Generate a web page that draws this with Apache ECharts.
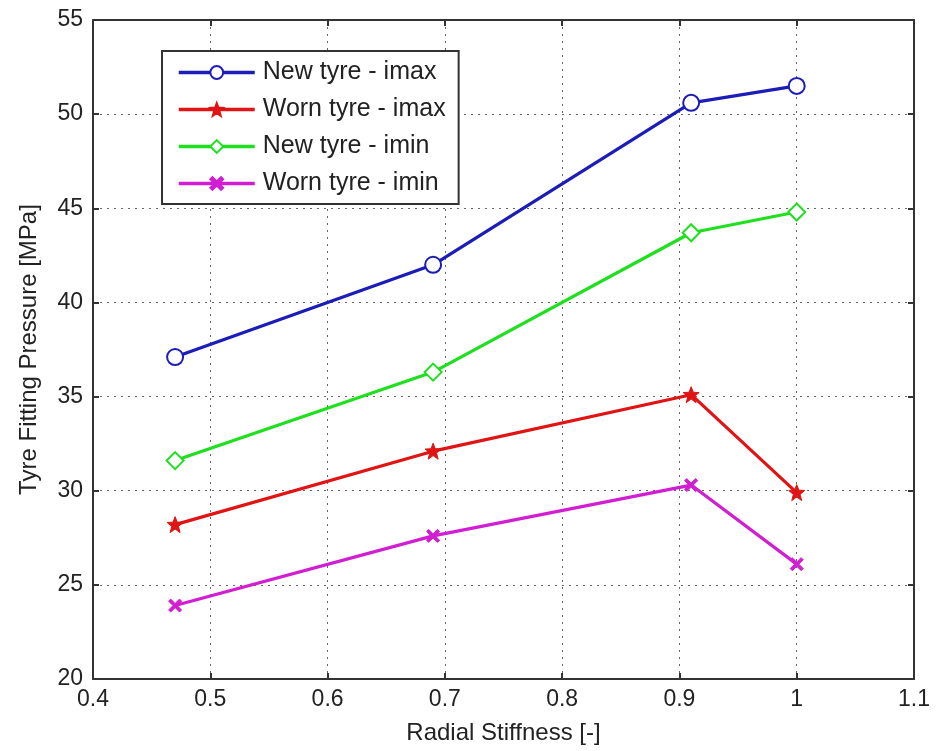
<!DOCTYPE html>
<html>
<head>
<meta charset="utf-8">
<script src="https://cdn.jsdelivr.net/npm/echarts@6/dist/echarts.min.js"></script>
<style>
html,body{margin:0;padding:0;background:#fff;}
#chart{width:946px;height:751px;}
</style>
</head>
<body>
<div id="chart"></div>
<script>
var stiffness = [0.47, 0.69, 0.91, 1.0];
var newTyreImax = [37.1, 42.0, 50.6, 51.5];
var wornTyreImax = [28.2, 32.1, 35.1, 29.9];
var newTyreImin = [31.6, 36.3, 43.7, 44.8];
var wornTyreImin = [23.9, 27.6, 30.3, 26.1];
var seriesNames = ['New tyre - imax', 'Worn tyre - imax', 'New tyre - imin', 'Worn tyre - imin'];
var xTicks = {min: 0.4, max: 1.1, step: 0.1};
var yTicks = {min: 20, max: 55, step: 5};

function pairs(ys) { return stiffness.map(function (x, i) { return [x, ys[i]]; }); }

var FONT = 'Liberation Sans, Arial, sans-serif';
var starPath = 'path://M5,0 L6.3,3.4 L10,3.6 L7.1,6 L8.1,9.8 L5,7.6 L1.9,9.8 L2.9,6 L0,3.6 L3.7,3.4 Z';
var xPath = 'path://M0,1.6 L1.6,0 L5,3.4 L8.4,0 L10,1.6 L6.6,5 L10,8.4 L8.4,10 L5,6.6 L1.6,10 L0,8.4 L3.4,5 Z';

var gridLine = {show: true, lineStyle: {color: '#666', type: [2, 5], width: 1}};
var axisLine = {show: true, onZero: false, lineStyle: {color: '#333', width: 2}};
var tick = {show: true, inside: true, length: 6, lineStyle: {color: '#333', width: 2}};

function mkSeries(name, ys, color, symbol, size, empty) {
  return {
    name: name, type: 'line', data: pairs(ys),
    symbol: symbol, symbolSize: size, showSymbol: true,
    lineStyle: {color: color, width: 3.2},
    itemStyle: {color: color, borderColor: color, borderWidth: empty ? 2.5 : 1},
    emphasis: {disabled: true},
    z: 3
  };
}

var chart = echarts.init(document.getElementById('chart'));
chart.setOption({
  backgroundColor: '#fff',
  animation: false,
  textStyle: {fontFamily: FONT},
  grid: {left: 93, top: 20, right: 32, bottom: 72, containLabel: false},
  legend: {
    orient: 'vertical', left: 162, top: 51,
    padding: [9, 13, 8, 15],
    itemWidth: 76, itemHeight: 16, itemGap: 12,
    borderColor: '#333', borderWidth: 2, backgroundColor: '#fff',
    lineStyle: {width: 3.5},
    textStyle: {fontFamily: FONT, fontSize: 25, color: '#222', padding: [0, 0, 0, 3]},
    data: seriesNames
  },
  xAxis: [{
    type: 'value', min: xTicks.min, max: xTicks.max, interval: xTicks.step,
    name: 'Radial Stiffness [-]', nameLocation: 'middle', nameGap: 42,
    nameTextStyle: {fontFamily: FONT, fontSize: 24, color: '#222'},
    axisLine: axisLine, axisTick: tick, splitLine: gridLine,
    axisLabel: {fontFamily: FONT, fontSize: 23, color: '#222', margin: 9}
  }, {
    type: 'value', position: 'top', min: xTicks.min, max: xTicks.max, interval: xTicks.step,
    axisLine: axisLine, axisTick: tick, splitLine: {show: false}, axisLabel: {show: false}
  }],
  yAxis: [{
    type: 'value', min: yTicks.min, max: yTicks.max, interval: yTicks.step,
    name: 'Tyre Fitting Pressure [MPa]', nameLocation: 'middle', nameGap: 52,
    nameTextStyle: {fontFamily: FONT, fontSize: 24, color: '#222'},
    axisLine: axisLine, axisTick: tick, splitLine: gridLine,
    axisLabel: {fontFamily: FONT, fontSize: 23, color: '#222', margin: 10}
  }, {
    type: 'value', position: 'right', min: yTicks.min, max: yTicks.max, interval: yTicks.step,
    axisLine: axisLine, axisTick: tick, splitLine: {show: false}, axisLabel: {show: false}
  }],
  series: [
    mkSeries(seriesNames[0], newTyreImax, '#1c1cb8', 'emptyCircle', 16, true),
    mkSeries(seriesNames[1], wornTyreImax, '#e01414', starPath, 16, false),
    mkSeries(seriesNames[2], newTyreImin, '#1ee01e', 'emptyDiamond', 17, true),
    mkSeries(seriesNames[3], wornTyreImin, '#d21ed2', xPath, 13, false)
  ]
});
</script>
</body>
</html>
